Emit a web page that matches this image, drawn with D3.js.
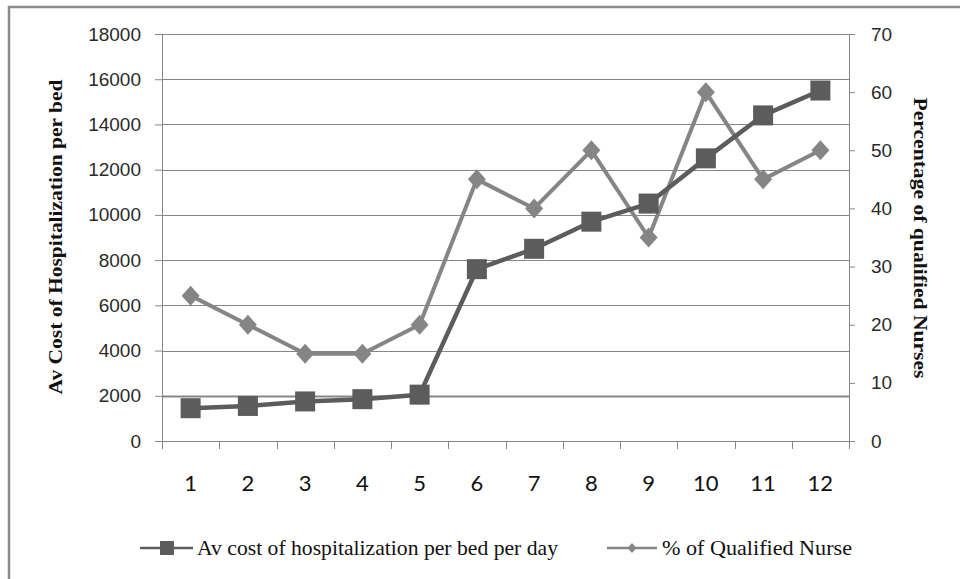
<!DOCTYPE html>
<html>
<head>
<meta charset="utf-8">
<script src="https://cdn.jsdelivr.net/npm/d3@7/dist/d3.min.js"></script>
<style>
  html, body { margin: 0; padding: 0; background: #fff; }
  svg { display: block; }
</style>
</head>
<body>
<svg id="chart" width="960" height="579"></svg>
<script>
// Hospital groups 1..12
const categories = ["1", "2", "3", "4", "5", "6", "7", "8", "9", "10", "11", "12"];
// Average cost of hospitalization per bed per day
const costValues = [1450, 1550, 1750, 1850, 2050, 7600, 8500, 9700, 10500, 12500, 14400, 15500];
// Percentage of qualified nurses
const nursePct = [25, 20, 15, 15, 20, 45, 40, 50, 35, 60, 45, 50];
const leftTicks = [0, 2000, 4000, 6000, 8000, 10000, 12000, 14000, 16000, 18000];
const rightTicks = [0, 10, 20, 30, 40, 50, 60, 70];
const seriesNames = ["Av cost of hospitalization per bed per day", "% of Qualified Nurse"];
const leftTitle = "Av Cost of Hospitalization per bed";
const rightTitle = "Percentage of qualified Nurses";

const svg = d3.select("#chart");
const plot = { left: 162, right: 849, top: 34, bottom: 441 };
const axisColor = "#878787";
const costColor = "#5c5c5c";
const nurseColor = "#858585";

// Outer frame (top and left edges visible)
svg.append("path")
  .attr("d", "M9,600 L9,7 L970,7")
  .attr("fill", "none").attr("stroke", "#8a8a8a").attr("stroke-width", 2.5);

const x = d3.scaleBand().domain(categories).range([plot.left, plot.right]);
const yL = d3.scaleLinear().domain([0, 18000]).range([plot.bottom, plot.top]);
const yR = d3.scaleLinear().domain([0, 70]).range([plot.bottom, plot.top]);
const cx = d => x(d) + x.bandwidth() / 2;

// Horizontal gridlines
svg.append("g").selectAll("line").data(leftTicks.filter(t => t > 0)).join("line")
  .attr("x1", plot.left).attr("x2", plot.right)
  .attr("y1", d => Math.round(yL(d)) + 0.5).attr("y2", d => Math.round(yL(d)) + 0.5)
  .attr("stroke", axisColor)
  .attr("stroke-width", d => d === 2000 ? 2 : 1);

// Left axis
const gL = svg.append("g").attr("transform", `translate(${plot.left},0)`)
  .call(d3.axisLeft(yL).tickValues(leftTicks).tickSize(7).tickPadding(14).tickFormat(d3.format("d")));
gL.select(".domain").attr("stroke", axisColor);
gL.selectAll(".tick line").attr("stroke", axisColor);
gL.selectAll(".tick text").attr("font-family", "'Liberation Sans', Arial, sans-serif")
  .attr("font-size", 19).attr("fill", "#2a2a2a");

// Right axis
const gR = svg.append("g").attr("transform", `translate(${plot.right},0)`)
  .call(d3.axisRight(yR).tickValues(rightTicks).tickSize(6).tickPadding(16));
gR.select(".domain").attr("stroke", axisColor);
gR.selectAll(".tick line").attr("stroke", axisColor);
gR.selectAll(".tick text").attr("font-family", "'Liberation Sans', Arial, sans-serif")
  .attr("font-size", 19).attr("fill", "#2a2a2a");

// Bottom axis: ticks on category boundaries, labels at category centres
const gB = svg.append("g").attr("transform", `translate(0,${plot.bottom})`);
gB.append("line").attr("x1", plot.left).attr("x2", plot.right).attr("y1", 0.5).attr("y2", 0.5)
  .attr("stroke", axisColor);
const bounds = categories.map(c => x(c)).concat([plot.right]);
gB.selectAll("line.tk").data(bounds).join("line").attr("class", "tk")
  .attr("x1", d => Math.round(d) + 0.5).attr("x2", d => Math.round(d) + 0.5)
  .attr("y1", 0).attr("y2", 8).attr("stroke", axisColor);
gB.selectAll("text").data(categories).join("text")
  .attr("x", d => cx(d)).attr("y", 50)
  .attr("text-anchor", "middle")
  .attr("font-family", "Lato, 'Open Sans', sans-serif").attr("font-size", 22).attr("fill", "#111")
  .text(d => d);

// Axis titles
svg.append("text")
  .attr("transform", `translate(62,237) rotate(-90)`)
  .attr("text-anchor", "middle")
  .attr("font-family", "'Liberation Serif', 'Times New Roman', serif")
  .attr("font-weight", "bold").attr("font-size", 19).attr("fill", "#111")
  .attr("textLength", 315).attr("lengthAdjust", "spacingAndGlyphs")
  .text(leftTitle);
svg.append("text")
  .attr("transform", `translate(914,238) rotate(90)`)
  .attr("text-anchor", "middle")
  .attr("font-family", "'Liberation Serif', 'Times New Roman', serif")
  .attr("font-weight", "bold").attr("font-size", 19).attr("fill", "#111")
  .attr("textLength", 281).attr("lengthAdjust", "spacingAndGlyphs")
  .text(rightTitle);

// Nurse percentage series (diamonds)
const nurseData = categories.map((c, i) => ({ c, v: nursePct[i] }));
svg.append("path").datum(nurseData)
  .attr("d", d3.line().x(d => cx(d.c)).y(d => yR(d.v)))
  .attr("fill", "none").attr("stroke", nurseColor).attr("stroke-width", 4).attr("stroke-linejoin", "round");
svg.append("g").selectAll("path").data(nurseData).join("path")
  .attr("transform", d => `translate(${cx(d.c)},${yR(d.v)})`)
  .attr("d", "M0,-10 L9,0 L0,10 L-9,0 Z")
  .attr("fill", nurseColor);

// Cost series (squares)
const costData = categories.map((c, i) => ({ c, v: costValues[i] }));
svg.append("path").datum(costData)
  .attr("d", d3.line().x(d => cx(d.c)).y(d => yL(d.v)))
  .attr("fill", "none").attr("stroke", costColor).attr("stroke-width", 4.5).attr("stroke-linejoin", "round");
svg.append("g").selectAll("rect").data(costData).join("rect")
  .attr("x", d => cx(d.c) - 10).attr("y", d => yL(d.v) - 10)
  .attr("width", 20).attr("height", 20)
  .attr("fill", costColor);

// Legend
const legY = 548;
const leg = svg.append("g");
leg.append("line").attr("x1", 140).attr("x2", 193).attr("y1", legY).attr("y2", legY)
  .attr("stroke", costColor).attr("stroke-width", 2.5);
leg.append("rect").attr("x", 160).attr("y", legY - 7).attr("width", 14).attr("height", 14).attr("fill", costColor);
leg.append("text").attr("x", 197).attr("y", legY + 7)
  .attr("font-family", "'Liberation Serif', 'Times New Roman', serif").attr("font-size", 22).attr("fill", "#111")
  .attr("textLength", 361).attr("lengthAdjust", "spacingAndGlyphs")
  .text(seriesNames[0]);
leg.append("line").attr("x1", 607).attr("x2", 657).attr("y1", legY).attr("y2", legY)
  .attr("stroke", nurseColor).attr("stroke-width", 2.5);
leg.append("path").attr("transform", `translate(632,${legY})`)
  .attr("d", "M0,-5 L4.5,0 L0,5 L-4.5,0 Z").attr("fill", nurseColor);
leg.append("text").attr("x", 662).attr("y", legY + 7)
  .attr("font-family", "'Liberation Serif', 'Times New Roman', serif").attr("font-size", 22).attr("fill", "#111")
  .attr("textLength", 190).attr("lengthAdjust", "spacingAndGlyphs")
  .text(seriesNames[1]);
</script>
</body>
</html>
